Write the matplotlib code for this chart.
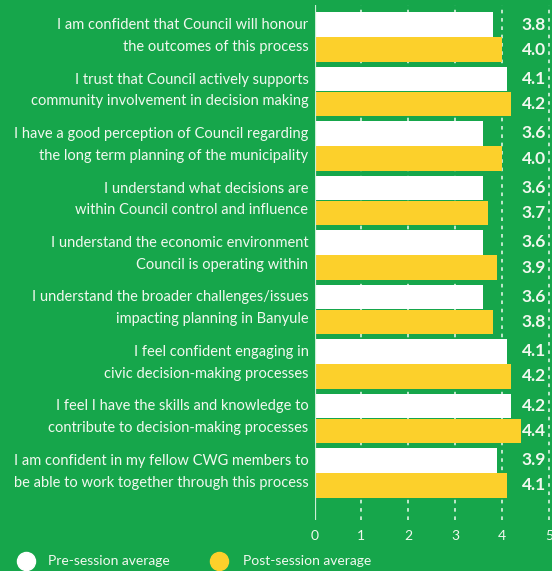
import matplotlib
matplotlib.use("Agg")
import matplotlib.pyplot as plt
from matplotlib.lines import Line2D

statements = [
    "I am confident that Council will honour\nthe outcomes of this process",
    "I trust that Council actively supports\ncommunity involvement in decision making",
    "I have a good perception of Council regarding\nthe long term planning of the municipality",
    "I understand what decisions are\nwithin Council control and influence",
    "I understand the economic environment\nCouncil is operating within",
    "I understand the broader challenges/issues\nimpacting planning in Banyule",
    "I feel confident engaging in\ncivic decision-making processes",
    "I feel I have the skills and knowledge to\ncontribute to decision-making processes",
    "I am confident in my fellow CWG members to\nbe able to work together through this process",
]
pre_values = [3.8, 4.1, 3.6, 3.6, 3.6, 3.6, 4.1, 4.2, 3.9]
post_values = [4.0, 4.2, 4.0, 3.7, 3.9, 3.8, 4.2, 4.4, 4.1]
x_ticks = [0, 1, 2, 3, 4, 5]
series_names = ["Pre-session average", "Post-session average"]

GREEN = "#16a64b"
YELLOW = "#fcd02b"
WHITE = "#ffffff"
PALE = "#cdeed6"
TEXT = "#f2f8ef"

plt.rcParams["font.family"] = ["Lato", "DejaVu Sans"]

W, H = 552, 571
fig = plt.figure(figsize=(W / 100, H / 100), dpi=100, facecolor=GREEN)
left_px, right_px, top_px, bottom_px = 314.5, 552, 5, 520
ax = fig.add_axes([left_px / W, 1 - bottom_px / H, (right_px - left_px) / W, (bottom_px - top_px) / H])
ax.set_facecolor(GREEN)

n = len(statements)
ys = list(range(n))
bh = 0.45
pre_y = [y - 0.23 for y in ys]
post_y = [y + 0.23 for y in ys]

# grid
for t in x_ticks[1:]:
    ax.axvline(t, color=PALE, lw=1.3, linestyle=(0, (2.0, 2.6)), zorder=1)
ax.axvline(0, color=PALE, lw=1.6, zorder=3)

ax.barh(pre_y, pre_values, height=bh, color=WHITE, zorder=2)
ax.barh(post_y, post_values, height=bh, color=YELLOW, zorder=2)

ax.set_xlim(0, (right_px - left_px) / 46.9)
ax.set_ylim(8.864, -0.588)

for s in ax.spines.values():
    s.set_visible(False)
ax.set_yticks([])
ax.set_xticks(x_ticks)
ax.set_xticklabels([str(t) for t in x_ticks], color=TEXT, fontsize=10)
ax.tick_params(axis="x", length=0, pad=7)

for i, lab in enumerate(statements):
    l1, l2 = lab.split("\n")
    ax.text(-0.13, pre_y[i] + 0.01, l1, ha="right", va="center", color=TEXT, fontsize=10.5)
    ax.text(-0.13, post_y[i] - 0.05, l2, ha="right", va="center", color=TEXT, fontsize=10.5)
    ax.text(4.68, pre_y[i], f"{pre_values[i]:.1f}", ha="center", va="center",
            color=TEXT, fontsize=12.5, fontweight="bold")
    ax.text(4.68, post_y[i], f"{post_values[i]:.1f}", ha="center", va="center",
            color=TEXT, fontsize=12.5, fontweight="bold")

# legend drawn manually at reference positions
leg_y = 1 - 561 / H
for cx, tx, col, name in [(26, 48, WHITE, series_names[0]), (219, 243, YELLOW, series_names[1])]:
    fig.add_artist(Line2D([cx / W], [leg_y], marker="o", linestyle="", markersize=13,
                          markerfacecolor=col, markeredgecolor=col, transform=fig.transFigure))
    fig.text(tx / W, leg_y, name, ha="left", va="center", color=TEXT, fontsize=10)

fig.savefig("out.png", dpi=100, facecolor=GREEN)
